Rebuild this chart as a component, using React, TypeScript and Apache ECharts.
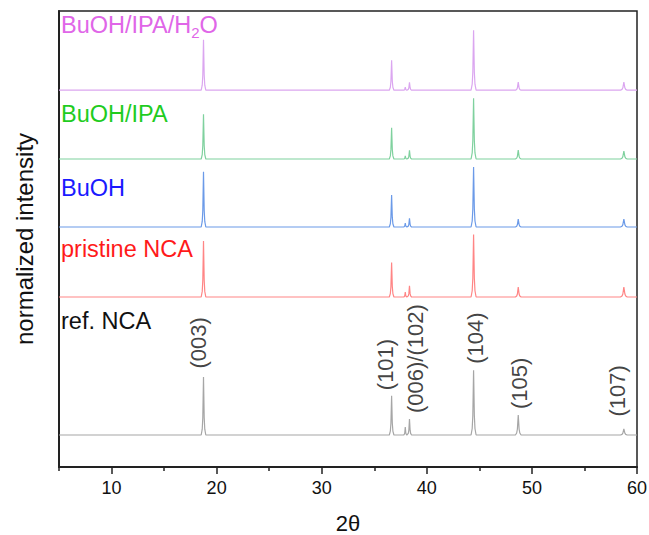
import React, { useEffect, useRef } from 'react';
import * as echarts from 'echarts';

// Reflection positions (2θ) : (003), (101), (006), (102), (104), (105), (107)
const PEAK_POS = [18.75, 36.65, 37.95, 38.35, 44.45, 48.7, 58.75];
const PEAK_HALF_WIDTH = [0.22, 0.22, 0.15, 0.2, 0.24, 0.27, 0.32];
// relative profile of one reflection (fraction of half width, fraction of height)
const SHAPE_DX = [-1, -0.55, -0.3, 0, 0.3, 0.55, 1];
const SHAPE_FRAC = [0, 0.1, 0.3, 1, 0.3, 0.1, 0];

const SERIES_NAMES = ['ref. NCA', 'pristine NCA', 'BuOH', 'BuOH/IPA', 'BuOH/IPA/H2O'];
const BASELINES = [0.4, 2.125, 3.0, 3.85, 4.71];
const REF_NCA = [0.725, 0.49, 0.1, 0.2, 0.81, 0.25, 0.075];
const PRISTINE_NCA = [0.7, 0.43, 0.06, 0.14, 0.78, 0.125, 0.125];
const BUOH = [0.69, 0.4, 0.05, 0.11, 0.75, 0.1, 0.1];
const BUOH_IPA = [0.56, 0.39, 0.04, 0.11, 0.76, 0.11, 0.1];
const BUOH_IPA_H2O = [0.63, 0.375, 0.04, 0.1, 0.75, 0.1, 0.1];
const HEIGHTS = [REF_NCA, PRISTINE_NCA, BUOH, BUOH_IPA, BUOH_IPA_H2O];

const LINE_COLORS = ['#a6a6a6', '#ff8585', '#6b9ae8', '#7fd19e', '#dba6f0'];
const LABEL_COLORS = ['#111111', '#ff1a1a', '#1a1aff', '#1fcc1f', '#e066e8'];

const HKL_LABELS = ['(003)', '(101)', '(006)/(102)', '(104)', '(105)', '(107)'];
const HKL_X = [18.32, 36.1, 38.88, 44.66, 48.82, 58.18];
const HKL_Y = [1.23, 0.96, 0.675, 1.29, 0.725, 0.63];

const X_MIN = 5;
const X_MAX = 60;
const Y_MAX = 5.7;
const MAJOR_TICKS = [10, 20, 30, 40, 50, 60];
const MINOR_TICKS = [5, 15, 25, 35, 45, 55];

const FONT = 'Liberation Sans, Arial, sans-serif';

function buildTrace(base: number, heights: number[]) {
  const pts: number[][] = [[X_MIN, base]];
  PEAK_POS.forEach((p, i) => {
    SHAPE_DX.forEach((dx, k) => {
      pts.push([p + dx * PEAK_HALF_WIDTH[i], base + SHAPE_FRAC[k] * heights[i]]);
    });
  });
  pts.push([X_MAX, base]);
  return pts;
}

export default function App() {
  const ref = useRef<HTMLDivElement>(null);
  useEffect(() => {
    if (!ref.current) return;
    const chart = echarts.init(ref.current, null, { renderer: 'svg' });
    const lineSeries = SERIES_NAMES.map((name, i) => ({
      name,
      type: 'line',
      data: buildTrace(BASELINES[i], HEIGHTS[i]),
      showSymbol: false,
      symbol: 'none',
      lineStyle: { color: LINE_COLORS[i], width: 1.2 },
      xAxisIndex: 0,
      yAxisIndex: 0,
    }));
    const labelTexts = [
      { text: 'ref. NCA', y: 320.5 },
      { text: 'pristine NCA', y: 249 },
      { text: 'BuOH', y: 188 },
      { text: 'BuOH/IPA', y: 113.5 },
      { text: 'BuOH/IPA/H{sub|2}O', y: 24.5 },
    ];
    const gridBase = { left: 59, right: 12, top: 11, bottom: 68, outerBoundsMode: 'none', containLabel: false };
    chart.setOption({
      animation: false,
      grid: [
        { ...gridBase, show: true, borderColor: '#222', borderWidth: 1.5, backgroundColor: 'transparent' },
        { ...gridBase, show: false },
      ],
      xAxis: [
        {
          type: 'value',
          gridIndex: 0,
          min: X_MIN,
          max: X_MAX,
          position: 'bottom',
          name: '2θ',
          nameLocation: 'middle',
          nameGap: 45,
          nameTextStyle: { fontSize: 22, lineHeight: 22, color: '#111', fontFamily: FONT },
          axisLine: { show: true, lineStyle: { color: '#222', width: 2 } },
          axisTick: { show: true, length: 7, customValues: MAJOR_TICKS, lineStyle: { color: '#222', width: 1.5 } },
          axisLabel: { show: true, customValues: MAJOR_TICKS, fontSize: 18, color: '#111', fontFamily: FONT, margin: 12 },
          splitLine: { show: false },
        },
        {
          type: 'value',
          gridIndex: 1,
          min: X_MIN,
          max: X_MAX,
          position: 'bottom',
          axisLine: { show: false },
          axisTick: { show: true, length: 4, customValues: MINOR_TICKS, lineStyle: { color: '#222', width: 1.5 } },
          axisLabel: { show: false },
          splitLine: { show: false },
        },
      ],
      yAxis: [
        {
          type: 'value',
          gridIndex: 0,
          min: 0,
          max: Y_MAX,
          name: 'normalized intensity',
          nameLocation: 'middle',
          nameGap: 23,
          nameTextStyle: { fontSize: 24, color: '#111', fontFamily: FONT },
          axisLine: { show: true, lineStyle: { color: '#222', width: 2 } },
          axisTick: { show: false },
          axisLabel: { show: false },
          splitLine: { show: false },
        },
        {
          type: 'value',
          gridIndex: 1,
          min: 0,
          max: Y_MAX,
          show: false,
        },
      ],
      series: [
        ...lineSeries,
        {
          type: 'scatter',
          symbolSize: 0,
          silent: true,
          data: HKL_LABELS.map((l, i) => ({ name: l, value: [HKL_X[i], HKL_Y[i]] })),
          label: {
            show: true,
            formatter: (p: any) => p.name,
            rotate: 90,
            position: [0, 0],
            align: 'left',
            verticalAlign: 'middle',
            fontSize: 22,
            color: '#111',
            fontFamily: FONT,
          },
        },
      ],
      graphic: labelTexts.map((t, i) => ({
        type: 'text',
        x: 61,
        y: t.y,
        style: {
          text: t.text,
          fill: LABEL_COLORS[i],
          fontSize: 23.5,
          fontFamily: FONT,
          verticalAlign: 'middle',
          align: 'left',
          rich: {
            sub: { fontSize: 15, fill: LABEL_COLORS[i], fontFamily: FONT, verticalAlign: 'bottom', padding: [15, 0, 0, 0] },
          },
        },
      })),
    });
    return () => chart.dispose();
  }, []);
  return (
    <div
      ref={ref}
      style={{ position: 'absolute', left: 0, top: 0, width: 649, height: 535, background: '#fff' }}
    />
  );
}
